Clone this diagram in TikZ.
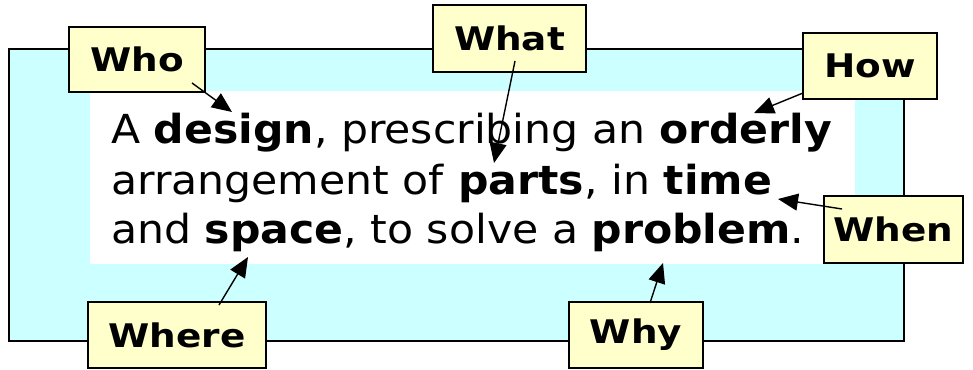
\documentclass[tikz,border=0pt]{standalone}
\usepackage{fontspec}
\setmainfont{DejaVu Sans}[FakeStretch=1.065]
\newfontfamily\lblfont{DejaVu Sans}[FakeStretch=1.15]
\usetikzlibrary{arrows.meta}
\definecolor{cyanbg}{RGB}{204,255,255}
\definecolor{noteyel}{RGB}{255,255,204}
\tikzset{
  lbl/.style={draw=black, fill=noteyel, line width=1.8pt, inner sep=0pt,
    font=\lblfont\fontsize{32.5}{38}\selectfont\bfseries},
  txt/.style={anchor=base west, inner sep=0pt, font=\fontsize{40}{50}\selectfont},
  ptr/.style={-{Triangle[length=20pt,width=17pt]}, line width=1.4pt}
}
\begin{document}
\begin{tikzpicture}[x=1pt,y=-1pt]
\useasboundingbox (0,0) rectangle (973,369);
\fill[white] (0,0) rectangle (973,369);
\draw[fill=cyanbg, line width=1.8pt] (9,49) rectangle (904,341);
\fill[white] (90,91) rectangle (855,264);
\node[txt] (l1) at (111,143) {A \textbf{design}, prescribing an \textbf{orderly}};
\node[txt] (l2) at (111,194) {arrangement of \textbf{parts}, in \textbf{time}};
\node[txt] (l3) at (111,243) {and \textbf{space}, to solve a \textbf{problem}.};
\node[lbl, minimum width=136pt, minimum height=65pt] (who) at (137,59.5) {Who};
\node[lbl, minimum width=153pt, minimum height=67pt] (what) at (509.5,38.5) {What};
\node[lbl, minimum width=134pt, minimum height=66pt] (how) at (870,66) {How};
\node[lbl, minimum width=139pt, minimum height=67pt] (when) at (893.5,229.5) {When};
\node[lbl, minimum width=178pt, minimum height=66pt] (where) at (177,335) {Where};
\node[lbl, minimum width=134pt, minimum height=66pt] (why) at (636,335) {Why};
\coordinate (whoS) at (192,83);
\coordinate (whoT) at (232,112);
\coordinate (whatS) at (515,61);
\coordinate (whatT) at (494,163);
\coordinate (howS) at (803,93);
\coordinate (howT) at (754,113);
\coordinate (whenS) at (842,209);
\coordinate (whenT) at (778,199);
\coordinate (whereS) at (219,305);
\coordinate (whereT) at (248,257);
\coordinate (whyS) at (650,303);
\coordinate (whyT) at (663,263);
\draw[ptr] (whoS) -- (whoT);
\draw[ptr] (whatS) -- (whatT);
\draw[ptr] (howS) -- (howT);
\draw[ptr] (whenS) -- (whenT);
\draw[ptr] (whereS) -- (whereT);
\draw[ptr] (whyS) -- (whyT);
\end{tikzpicture}
\end{document}
